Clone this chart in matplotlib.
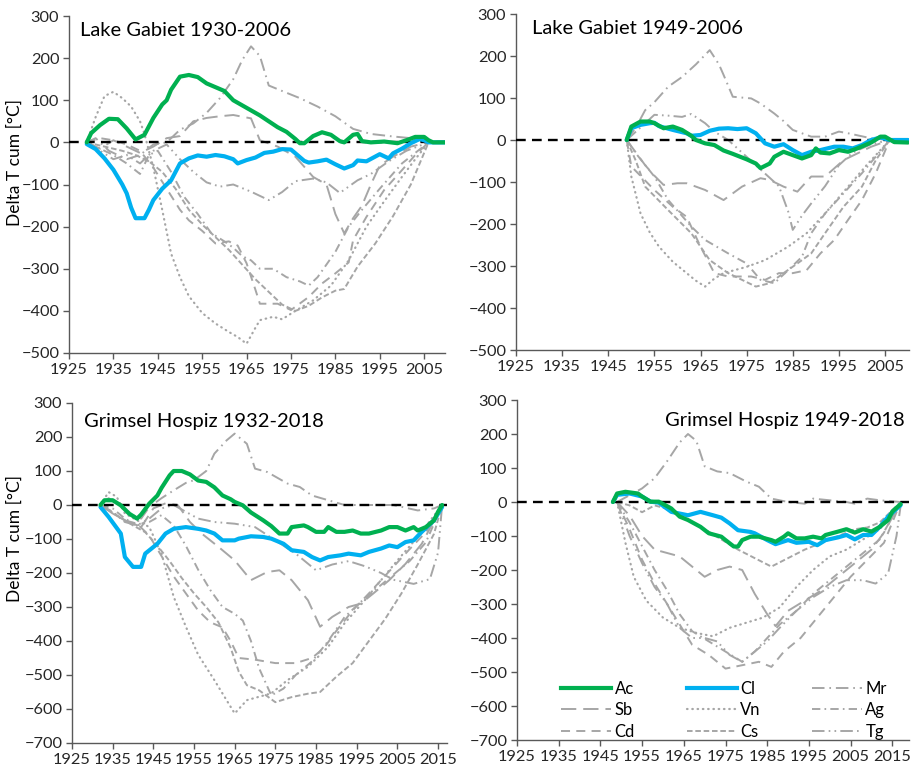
import matplotlib
matplotlib.use("Agg")
import matplotlib.pyplot as plt
from matplotlib.lines import Line2D

plt.rcParams['font.family'] = ['Lato', 'DejaVu Sans']
plt.rcParams['lines.scale_dashes'] = False

# ---------------------------------------------------------------- data
# cumulative temperature departure (Delta T cum, degC), (year, value) pairs
series_names = ["Ac", "Cl", "Mr", "Sb", "Vn", "Ag", "Cd", "Cs", "Tg"]

# Lake Gabiet 1930-2006
gab30_ac = [(1929, 0), (1930, 22), (1932, 41), (1934, 56), (1936, 55), (1938, 33), (1940, 7), (1942, 18),
            (1944, 58), (1946, 90), (1947, 100), (1948, 125), (1950, 156), (1952, 160), (1954, 155), (1956, 140),
            (1958, 131), (1960, 122), (1962, 100), (1964, 88), (1966, 76), (1968, 64), (1970, 50), (1972, 36),
            (1974, 25), (1976, 8), (1977, -2), (1978, -2), (1980, 15), (1982, 24), (1984, 18), (1986, 3),
            (1987, 0), (1989, 18), (1990, 20), (1991, 3), (1993, 0), (1996, 2), (1999, -2), (2001, 5),
            (2003, 13), (2005, 13), (2006, 5), (2007, 0), (2010, 0)]
gab30_cl = [(1929, -4), (1931, -16), (1933, -38), (1935, -65), (1937, -100), (1938, -121), (1939, -155),
            (1940, -180), (1942, -180), (1943, -160), (1944, -137), (1946, -110), (1948, -90), (1949, -70),
            (1950, -50), (1952, -38), (1954, -31), (1956, -34), (1958, -30), (1960, -33), (1962, -40),
            (1963, -50), (1965, -42), (1967, -36), (1969, -25), (1971, -22), (1973, -16), (1975, -17),
            (1976, -26), (1978, -44), (1979, -48), (1981, -45), (1983, -41), (1985, -52), (1987, -62),
            (1989, -54), (1990, -43), (1992, -45), (1995, -28), (1997, -38), (1998, -26), (2000, -15),
            (2002, -2), (2004, 8), (2005, 5), (2006, 0), (2010, 0)]
gab30_mr = [(1929, 0), (1931, 10), (1934, -20), (1938, -40), (1941, -30), (1944, -5), (1947, 0), (1950, 30),
            (1953, 45), (1956, 70), (1959, 105), (1962, 150), (1964, 195), (1966, 228), (1968, 205),
            (1970, 135), (1973, 122), (1977, 105), (1981, 85), (1985, 62), (1989, 32), (1993, 20),
            (1998, 14), (2002, 10), (2006, 0)]
gab30_sb = [(1929, 0), (1932, -15), (1935, 5), (1938, -10), (1941, -25), (1944, -10), (1947, 10), (1950, 15),
            (1953, 50), (1956, 58), (1959, 62), (1962, 65), (1966, 57), (1968, 5), (1972, -10), (1976, -34),
            (1980, -82), (1983, -100), (1985, -170), (1987, -216), (1989, -180), (1991, -150), (1993, -100),
            (1995, -55), (1998, -34), (2002, -10), (2006, 0)]
gab30_vn = [(1929, 0), (1931, 60), (1933, 110), (1935, 120), (1937, 105), (1939, 85), (1941, 50), (1942, 20),
            (1944, -60), (1946, -160), (1948, -264), (1950, -320), (1952, -365), (1955, -405), (1958, -430),
            (1961, -450), (1963, -462), (1965, -478), (1967, -440), (1968, -422), (1971, -414), (1973, -420),
            (1976, -400), (1980, -375), (1984, -340), (1988, -280), (1992, -200), (1996, -140), (2000, -82),
            (2003, -40), (2006, 0)]
gab30_ag = [(1929, 0), (1932, -15), (1935, -30), (1938, -50), (1941, -75), (1943, -30), (1945, -20),
            (1948, -70), (1951, -130), (1954, -170), (1957, -215), (1960, -235), (1962, -250), (1964, -270),
            (1966, -280), (1968, -300), (1971, -300), (1974, -320), (1977, -330), (1979, -340), (1981, -320),
            (1983, -290), (1985, -260), (1988, -200), (1991, -160), (1995, -110), (2000, -50), (2006, 0)]
gab30_cd = [(1929, 0), (1932, 10), (1935, 5), (1938, -5), (1941, -20), (1944, -60), (1947, -110),
            (1950, -160), (1952, -185), (1955, -210), (1958, -240), (1961, -235), (1963, -245), (1965, -287),
            (1967, -350), (1968, -383), (1972, -383), (1975, -398), (1979, -367), (1982, -335), (1985, -311),
            (1988, -285), (1989, -232), (1992, -177), (1996, -113), (2000, -66), (2003, -30), (2006, 0)]
gab30_cs = [(1929, 0), (1933, -10), (1937, -20), (1940, -30), (1943, -45), (1946, -70), (1949, -110),
            (1952, -160), (1955, -195), (1958, -225), (1961, -255), (1964, -290), (1967, -325), (1970, -355),
            (1973, -385), (1976, -400), (1979, -388), (1982, -368), (1985, -352), (1987, -348), (1990, -295),
            (1994, -240), (1998, -175), (2002, -100), (2006, 0)]
gab30_tg = [(1929, 0), (1932, -20), (1935, -40), (1938, -30), (1941, -50), (1944, -20), (1947, -5),
            (1950, -40), (1953, -70), (1956, -95), (1959, -105), (1962, -100), (1966, -117), (1970, -137),
            (1973, -118), (1976, -92), (1980, -86), (1983, -95), (1986, -120), (1990, -90), (1993, -75),
            (1997, -45), (2001, -20), (2006, 0)]

# Lake Gabiet 1949-2006
gab49_ac = [(1949, 0), (1950, 32), (1952, 44), (1954, 44), (1955, 40), (1957, 28), (1959, 32), (1961, 24),
            (1963, 10), (1964, 0), (1966, -8), (1968, -12), (1970, -25), (1972, -33), (1975, -46), (1977, -56),
            (1978, -67), (1980, -56), (1981, -40), (1983, -28), (1985, -36), (1987, -44), (1989, -36),
            (1990, -20), (1991, -30), (1993, -32), (1995, -24), (1997, -28), (1999, -20), (2002, -6),
            (2004, 8), (2005, 8), (2007, -5), (2010, -6)]
gab49_cl = [(1949, 0), (1950, 28), (1952, 36), (1954, 40), (1955, 41), (1956, 33), (1959, 24), (1962, 16),
            (1963, 10), (1965, 12), (1967, 22), (1969, 27), (1971, 28), (1973, 26), (1975, 28), (1977, 16),
            (1979, -8), (1981, -16), (1983, -10), (1985, -24), (1987, -36), (1989, -28), (1991, -24),
            (1994, -16), (1996, -16), (1998, -20), (2000, -12), (2002, 0), (2004, 6), (2006, 0), (2010, 0)]
gab49_mr = [(1949, 0), (1951, 30), (1953, 71), (1955, 90), (1958, 127), (1961, 150), (1964, 180), (1967, 214),
            (1969, 180), (1970, 155), (1972, 103), (1976, 99), (1978, 87), (1981, 63), (1983, 45), (1985, 24),
            (1989, 8), (1992, 8), (1995, 20), (1997, 16), (2002, 4), (2006, 0)]
gab49_sb = [(1949, 0), (1951, -30), (1953, -60), (1955, -85), (1957, -107), (1960, -103), (1962, -103),
            (1966, -119), (1970, -143), (1974, -111), (1978, -91), (1980, -95), (1983, -111), (1986, -123),
            (1989, -87), (1992, -87), (1996, -48), (2002, -16), (2006, 0)]
gab49_vn = [(1949, 0), (1950, -87), (1952, -175), (1954, -220), (1956, -254), (1959, -290), (1962, -317),
            (1964, -335), (1966, -349), (1968, -330), (1970, -317), (1975, -302), (1979, -286), (1984, -254),
            (1988, -222), (1992, -175), (1997, -111), (2001, -60), (2006, 0)]
gab49_ag = [(1949, 0), (1951, -32), (1955, -87), (1958, -143), (1963, -206), (1966, -238), (1971, -270),
            (1975, -294), (1978, -333), (1981, -341), (1984, -310), (1987, -278), (1989, -222), (1992, -175),
            (1996, -127), (2000, -79), (2006, 0)]
gab49_cd = [(1949, 0), (1950, -63), (1955, -119), (1959, -159), (1962, -183), (1965, -254), (1968, -317),
            (1971, -325), (1974, -325), (1976, -325), (1979, -333), (1982, -317), (1985, -317), (1988, -310),
            (1991, -270), (1994, -238), (1997, -190), (2000, -143), (2003, -79), (2006, 0)]
gab49_cs = [(1949, 0), (1951, -50), (1953, -111), (1958, -167), (1963, -222), (1967, -286), (1971, -317),
            (1974, -333), (1977, -349), (1980, -341), (1983, -317), (1986, -294), (1989, -270), (1992, -222),
            (1996, -159), (2000, -111), (2003, -48), (2006, 0)]
gab49_tg = [(1949, 0), (1952, 30), (1955, 60), (1958, 58), (1961, 55), (1963, 62), (1966, 40), (1968, 20),
            (1971, 0), (1974, -30), (1977, -60), (1980, -90), (1982, -110), (1984, -170), (1985, -214),
            (1987, -180), (1989, -151), (1992, -110), (1995, -60), (1998, -30), (2002, -10), (2006, 0)]

# Grimsel Hospiz 1932-2018
gri32_ac = [(1932, 0), (1933, 14), (1935, 14), (1937, -1), (1939, -25), (1941, -40), (1942, -28), (1944, 4),
            (1946, 28), (1947, 50), (1949, 87), (1950, 100), (1952, 100), (1954, 90), (1956, 72), (1958, 68),
            (1960, 52), (1962, 28), (1964, 17), (1965, 9), (1967, -1), (1969, -22), (1972, -45), (1974, -62),
            (1976, -84), (1978, -84), (1979, -65), (1982, -60), (1983, -65), (1985, -79), (1987, -79),
            (1988, -65), (1990, -79), (1992, -79), (1994, -75), (1996, -84), (1998, -84), (2001, -75),
            (2003, -65), (2005, -65), (2007, -75), (2009, -65), (2010, -75), (2012, -65), (2014, -45),
            (2015, -20), (2016, 0)]
gri32_cl = [(1932, -6), (1934, -35), (1937, -84), (1938, -153), (1940, -182), (1942, -182), (1943, -143),
            (1946, -114), (1948, -84), (1950, -70), (1953, -65), (1956, -70), (1958, -75), (1960, -84),
            (1962, -104), (1965, -104), (1966, -99), (1969, -92), (1972, -94), (1974, -99), (1977, -114),
            (1979, -133), (1982, -138), (1984, -153), (1986, -163), (1988, -153), (1991, -148), (1993, -143),
            (1996, -148), (1998, -138), (2001, -128), (2003, -119), (2005, -124), (2007, -109), (2009, -104),
            (2011, -79), (2014, -45), (2016, -6)]
gri32_mr = [(1932, 0), (1934, 20), (1937, 0), (1940, -30), (1942, -40), (1944, -6), (1947, 20), (1950, 43),
            (1953, 65), (1955, 73), (1958, 100), (1960, 151), (1963, 190), (1965, 210), (1968, 180),
            (1970, 107), (1973, 97), (1978, 63), (1981, 53), (1984, 28), (1988, 14), (1992, 0), (1997, 0),
            (2004, 0), (2010, -16), (2014, -10), (2016, 0)]
gri32_sb = [(1932, 0), (1935, -25), (1938, -45), (1942, -65), (1945, -10), (1948, 5), (1951, 0), (1954, -50),
            (1957, -85), (1961, -123), (1965, -163), (1969, -221), (1973, -197), (1976, -192), (1979, -221),
            (1983, -280), (1986, -358), (1989, -329), (1993, -300), (1996, -290), (1999, -261), (2003, -221),
            (2007, -173), (2011, -114), (2016, 0)]
gri32_vn = [(1932, 0), (1934, 38), (1936, 24), (1938, -25), (1941, -45), (1944, -65), (1947, -143),
            (1950, -270), (1953, -358), (1956, -440), (1960, -515), (1963, -574), (1965, -613), (1968, -574),
            (1971, -564), (1974, -554), (1978, -515), (1983, -476), (1988, -417), (1992, -348), (1997, -280),
            (2001, -221), (2005, -163), (2010, -94), (2016, 0)]
gri32_ag = [(1932, 0), (1935, -10), (1938, -40), (1941, -60), (1944, -50), (1947, -30), (1950, -60),
            (1953, -120), (1956, -190), (1959, -250), (1962, -300), (1965, -320), (1967, -340), (1969, -400),
            (1971, -480), (1974, -560), (1977, -540), (1980, -500), (1984, -460), (1988, -400), (1992, -330),
            (1996, -285), (2000, -245), (2004, -205), (2008, -165), (2012, -110), (2016, 0)]
gri32_cd = [(1932, 0), (1935, -25), (1938, -45), (1941, -55), (1944, -90), (1947, -150), (1950, -210),
            (1953, -260), (1956, -310), (1959, -345), (1962, -360), (1964, -400), (1966, -450), (1970, -455),
            (1975, -465), (1980, -465), (1984, -450), (1987, -420), (1990, -370), (1994, -310), (1998, -260),
            (2003, -195), (2008, -130), (2012, -80), (2016, 0)]
gri32_cs = [(1932, 0), (1936, -30), (1940, -60), (1943, -80), (1946, -120), (1949, -165), (1952, -215),
            (1955, -260), (1958, -300), (1961, -345), (1964, -420), (1966, -490), (1968, -530), (1971, -545),
            (1975, -580), (1979, -565), (1983, -555), (1986, -550), (1990, -505), (1994, -465), (1998, -400),
            (2002, -335), (2006, -260), (2010, -175), (2014, -85), (2016, 0)]
gri32_tg = [(1932, 0), (1935, -20), (1938, -50), (1941, -60), (1944, -40), (1947, -10), (1950, 0),
            (1953, -20), (1956, -40), (1960, -50), (1965, -55), (1970, -65), (1975, -104), (1980, -143),
            (1985, -192), (1989, -175), (1993, -165), (1997, -180), (2001, -200), (2004, -220), (2009, -232),
            (2013, -218), (2015, -140), (2016, 0)]

# Grimsel Hospiz 1949-2018
gri49_ac = [(1948, 0), (1949, 25), (1951, 30), (1954, 25), (1955, 16), (1957, 1), (1959, 1), (1962, -19),
            (1964, -43), (1966, -53), (1969, -73), (1971, -92), (1974, -102), (1975, -112), (1977, -131),
            (1978, -131), (1979, -112), (1981, -102), (1983, -102), (1986, -112), (1987, -117), (1989, -102),
            (1990, -92), (1992, -107), (1994, -107), (1996, -102), (1998, -107), (1999, -97), (2002, -87),
            (2004, -80), (2006, -90), (2008, -80), (2010, -87), (2012, -73), (2014, -53), (2015, -28),
            (2017, -6)]
gri49_cl = [(1948, 0), (1949, 21), (1952, 25), (1955, 16), (1957, 1), (1959, -2), (1962, -29), (1966, -39),
            (1969, -29), (1972, -39), (1974, -46), (1976, -63), (1978, -83), (1981, -88), (1982, -92),
            (1985, -112), (1987, -124), (1990, -112), (1992, -120), (1995, -117), (1997, -127), (1999, -112),
            (2002, -104), (2004, -97), (2006, -110), (2008, -97), (2010, -97), (2012, -73), (2014, -43),
            (2017, -9)]
gri49_mr = [(1949, 0), (1952, 20), (1955, 40), (1958, 70), (1961, 120), (1964, 175), (1966, 200), (1968, 180),
            (1970, 105), (1973, 90), (1976, 85), (1980, 60), (1983, 45), (1986, 10), (1990, 0), (1994, -5),
            (1996, 10), (2000, 5), (2004, 0), (2006, -5), (2009, 10), (2012, 5), (2017, 0)]
gri49_sb = [(1949, 0), (1952, -40), (1955, -100), (1958, -140), (1961, -150), (1964, -160), (1967, -190),
            (1970, -220), (1973, -200), (1976, -190), (1979, -200), (1982, -270), (1985, -330), (1987, -365),
            (1990, -320), (1994, -290), (1998, -260), (2002, -220), (2006, -180), (2010, -140), (2013, -90),
            (2017, 0)]
gri49_vn = [(1949, 0), (1951, -120), (1953, -220), (1956, -290), (1960, -340), (1964, -370), (1968, -385),
            (1972, -395), (1976, -370), (1980, -355), (1984, -340), (1988, -310), (1992, -250), (1996, -200),
            (2000, -160), (2004, -140), (2008, -110), (2012, -80), (2017, 0)]
gri49_ag = [(1949, 0), (1952, -60), (1955, -130), (1958, -200), (1961, -260), (1964, -330), (1967, -380),
            (1971, -410), (1975, -440), (1979, -470), (1982, -440), (1985, -400), (1988, -360), (1992, -320),
            (1996, -270), (2000, -230), (2004, -190), (2008, -150), (2012, -110), (2017, 0)]
gri49_cd = [(1949, 0), (1952, -80), (1955, -170), (1958, -240), (1961, -300), (1964, -360), (1967, -420),
            (1971, -450), (1975, -490), (1979, -480), (1983, -470), (1986, -485), (1989, -440), (1993, -400),
            (1997, -340), (2001, -280), (2005, -220), (2009, -170), (2013, -120), (2017, 0)]
gri49_cs = [(1949, 0), (1952, -10), (1955, -30), (1958, -10), (1961, -20), (1964, -40), (1967, -60),
            (1970, -80), (1974, -110), (1978, -140), (1982, -165), (1986, -190), (1990, -165), (1994, -140),
            (1998, -120), (2002, -100), (2006, -80), (2009, -75), (2012, -60), (2017, 0)]
gri49_tg = [(1949, 0), (1952, -100), (1955, -180), (1958, -250), (1961, -300), (1964, -370), (1967, -400),
            (1970, -400), (1973, -410), (1976, -450), (1979, -470), (1982, -440), (1985, -410), (1988, -370),
            (1992, -320), (1996, -280), (2000, -250), (2004, -230), (2008, -230), (2011, -240), (2014, -210),
            (2016, -100), (2017, -10)]

titles = ["Lake Gabiet 1930-2006", "Lake Gabiet 1949-2006",
          "Grimsel Hospiz 1932-2018", "Grimsel Hospiz 1949-2018"]
y_label = "Delta T cum [°C]"

# ---------------------------------------------------------------- styles
GRAY = "#A6A6A6"
styles = {
    "Ac": dict(color="#00B050", lw=3.0, dashes=None),
    "Cl": dict(color="#00B0F0", lw=3.0, dashes=None),
    "Mr": dict(color=GRAY, lw=1.4, dashes=(9, 3.5, 1.2, 3.5)),
    "Sb": dict(color=GRAY, lw=1.4, dashes=(11, 5)),
    "Vn": dict(color=GRAY, lw=1.6, dashes=(0.4, 3.4)),
    "Ag": dict(color=GRAY, lw=1.4, dashes=(6, 3, 1.2, 3)),
    "Cd": dict(color=GRAY, lw=1.4, dashes=(6.5, 4.5)),
    "Cs": dict(color=GRAY, lw=1.4, dashes=(4, 2)),
    "Tg": dict(color=GRAY, lw=1.4, dashes=(9, 3, 1.2, 3, 1.2, 3)),
}
draw_order = ["Mr", "Sb", "Vn", "Ag", "Cd", "Cs", "Tg", "Cl", "Ac"]

panels = [
    dict(data=dict(Ac=gab30_ac, Cl=gab30_cl, Mr=gab30_mr, Sb=gab30_sb, Vn=gab30_vn, Ag=gab30_ag,
                   Cd=gab30_cd, Cs=gab30_cs, Tg=gab30_tg),
         rect=(69, 16, 445, 353), xlim=(1925, 2009.7), ylim=(-500, 300),
         xticks=range(1925, 2006, 10), title_xy=(80, 31), ylabel=True),
    dict(data=dict(Ac=gab49_ac, Cl=gab49_cl, Mr=gab49_mr, Sb=gab49_sb, Vn=gab49_vn, Ag=gab49_ag,
                   Cd=gab49_cd, Cs=gab49_cs, Tg=gab49_tg),
         rect=(516, 14, 909, 350), xlim=(1925, 2010.2), ylim=(-500, 300),
         xticks=range(1925, 2006, 10), title_xy=(532, 29), ylabel=False),
    dict(data=dict(Ac=gri32_ac, Cl=gri32_cl, Mr=gri32_mr, Sb=gri32_sb, Vn=gri32_vn, Ag=gri32_ag,
                   Cd=gri32_cd, Cs=gri32_cs, Tg=gri32_tg),
         rect=(72, 403, 447, 743), xlim=(1925, 2017.2), ylim=(-700, 300),
         xticks=range(1925, 2016, 10), title_xy=(84, 421), ylabel=True),
    dict(data=dict(Ac=gri49_ac, Cl=gri49_cl, Mr=gri49_mr, Sb=gri49_sb, Vn=gri49_vn, Ag=gri49_ag,
                   Cd=gri49_cd, Cs=gri49_cs, Tg=gri49_tg),
         rect=(517, 400, 909, 740), xlim=(1925, 2019), ylim=(-700, 300),
         xticks=range(1925, 2016, 10), title_xy=(665, 420), ylabel=False),
]

W, H = 919, 775
fig = plt.figure(figsize=(W / 100, H / 100), dpi=100)
TXT = "#262626"
AXC = "#595959"


def make_line(name, x, y, ax):
    st = styles[name]
    ln, = ax.plot(x, y, color=st["color"], lw=st["lw"], solid_capstyle="round",
                  dash_capstyle="round" if name == "Vn" else "butt", label=name)
    if st["dashes"] is not None:
        ln.set_dashes(st["dashes"])
    return ln


for i, p in enumerate(panels):
    l, t, r, b = p["rect"]
    ax = fig.add_axes([l / W, (H - b) / H, (r - l) / W, (b - t) / H])
    ax.set_xlim(*p["xlim"])
    ax.set_ylim(*p["ylim"])
    ax.axhline(0, color="black", lw=1.7, dashes=(7, 4.5), zorder=3)
    for name in draw_order:
        pts = p["data"][name]
        xs = [q[0] for q in pts]
        ys = [q[1] for q in pts]
        ln = make_line(name, xs, ys, ax)
        ln.set_zorder(4 if name in ("Ac", "Cl") else 2)
    ax.set_xticks(list(p["xticks"]))
    ax.set_yticks(range(p["ylim"][0], p["ylim"][1] + 1, 100))
    for s in ("top", "right"):
        ax.spines[s].set_visible(False)
    for s in ("left", "bottom"):
        ax.spines[s].set_color(AXC)
        ax.spines[s].set_linewidth(1.0)
    ax.tick_params(direction="out", length=4, width=1.0, color=AXC, labelsize=11.8,
                   labelcolor=TXT, pad=3)
    tx, ty = p["title_xy"]
    fig.text(tx / W, 1 - ty / H, titles[i], fontsize=14.5, color="black", ha="left", va="center")
    if p["ylabel"]:
        cy = 163 if i == 0 else 538
        fig.text(15 / W, 1 - cy / H, y_label, rotation=90, fontsize=12.5, color="black",
                 ha="center", va="center")
    if i == 3:
        handles = {}
        for name in series_names:
            h = Line2D([0], [0], color=styles[name]["color"], lw=styles[name]["lw"])
            if styles[name]["dashes"] is not None:
                h.set_dashes(styles[name]["dashes"])
            if name == "Vn":
                h.set_dash_capstyle("round")
            handles[name] = h
        order = ["Ac", "Sb", "Cd", "Cl", "Vn", "Cs", "Mr", "Ag", "Tg"]
        leg = ax.legend([handles[n] for n in order], order, ncol=3, frameon=False,
                        loc="lower left", bbox_to_anchor=((553 - l) / (r - l), (b - 748) / (b - t)),
                        bbox_transform=ax.transAxes, fontsize=12, handlelength=3.0,
                        handletextpad=0.2, columnspacing=3.1, labelspacing=0.33, borderpad=0)

fig.savefig("out.png", dpi=100)
